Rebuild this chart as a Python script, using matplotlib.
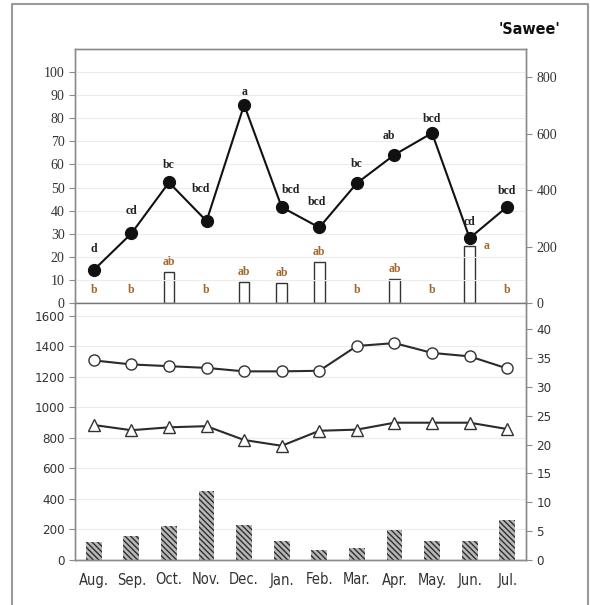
import matplotlib
matplotlib.use("Agg")
import matplotlib.pyplot as plt
from matplotlib.lines import Line2D
import numpy as np

# ---- data -------------------------------------------------------------
months = ["Aug.", "Sep.", "Oct.", "Nov.", "Dec.", "Jan.", "Feb.", "Mar.",
          "Apr.", "May.", "Jun.", "Jul."]

# upper panel: line on left axis (%), bars on right axis
rate = [14.3, 30.1, 52.2, 35.5, 85.8, 41.5, 32.7, 51.9, 64.2, 73.6, 28.1, 41.7]
rate_letters = ["d", "cd", "bc", "bcd", "a", "bcd", "bcd", "bc", "ab", "bcd", "cd", "bcd"]
count = [0, 0, 111, 0, 75, 71, 147, 0, 86, 0, 203, 0]
count_letters = ["b", "b", "ab", "b", "ab", "ab", "ab", "b", "ab", "b", "a", "b"]

# lower panel: rainfall bars (left axis), max / min temperature (right axis)
rainfall = [116, 159, 223, 450, 227, 122, 63, 79, 196, 126, 126, 262]
temp_max = [34.6, 33.9, 33.6, 33.3, 32.7, 32.7, 32.8, 37.1, 37.6, 35.9, 35.3, 33.2]
temp_min = [23.4, 22.5, 23.0, 23.2, 20.8, 19.8, 22.4, 22.6, 23.8, 23.8, 23.8, 22.7]

# label offsets (pixels) for the letters above the upper line
rate_lbl_dx = [0, 0, 0, -6, 0, 9, -2, 0, -6, 0, 0, 0]
rate_lbl_dy = [21, 22, 17, 32, 13, 17, 25, 19, 19, 14, 16, 16]

# ---- style --------------------------------------------------------------
plt.rcParams["hatch.linewidth"] = 1.0
plt.rcParams["font.stretch"] = "condensed"
SERIF = ["Liberation Serif", "DejaVu Serif"]
SANS = "DejaVu Sans"
BROWN = "#a5662c"
AXC = "#8c8c8c"
TXT = "#333333"

W, H = 590, 605
fig = plt.figure(figsize=(W / 100, H / 100), dpi=100)

def frac(x0, y0, x1, y1):
    return [x0 / W, 1 - y1 / H, (x1 - x0) / W, (y1 - y0) / H]

x = np.arange(len(months))

# ---- upper panel --------------------------------------------------------
ax1 = fig.add_axes(frac(75, 49, 526, 303))
ax1r = ax1.twinx()
ax1.set_zorder(ax1r.get_zorder() + 1)
ax1.patch.set_visible(False)

nz = [i for i, v in enumerate(count) if v > 0]
ax1r.bar(x[nz], [count[i] for i in nz], width=0.28, facecolor="white",
         edgecolor="#333333", linewidth=1.0)
ax1r.set_ylim(0, 900)
ax1r.set_yticks(range(0, 801, 200))

ax1.plot(x, rate, color="#111111", lw=1.5, marker="o", ms=8.5,
         mfc="#111111", mec="#111111")
ax1.set_ylim(0, 110)
ax1.set_yticks(range(0, 101, 10))
ax1.set_xlim(-0.5, len(months) - 0.5)
ax1.set_xticks([])
ax1.grid(axis="y", color="#ececec", lw=0.8)
ax1.set_axisbelow(True)

for i, (v, t) in enumerate(zip(rate, rate_letters)):
    ax1.annotate(t, (x[i], v), xytext=(rate_lbl_dx[i], rate_lbl_dy[i]),
                 textcoords="offset pixels", ha="center", va="center",
                 fontsize=8.5, fontweight="bold", family=SERIF, color="#222222")

for i, (v, t) in enumerate(zip(count, count_letters)):
    if v == 0:
        off = (0, 13)
    elif t == "a":
        off = (17, 0)
    else:
        off = (0, 10)
    ax1r.annotate(t, (x[i], v), xytext=off, textcoords="offset pixels",
                  ha="center", va="center", fontsize=8.5, fontweight="bold",
                  family=SERIF, color=BROWN)

for a in (ax1, ax1r):
    for s in a.spines.values():
        s.set_color(AXC)
        s.set_linewidth(1.0)
    a.tick_params(axis="y", direction="out", length=4, color=AXC,
                  labelsize=10, labelcolor=TXT)
ax1.spines["bottom"].set_color("#777777")

# ---- lower panel --------------------------------------------------------
ax2 = fig.add_axes(frac(75, 303, 526, 560))
ax2r = ax2.twinx()
ax2r.set_zorder(ax2.get_zorder() + 1)
ax2r.patch.set_visible(False)

ax2.bar(x, rainfall, width=0.42, facecolor="#b8b8b8", edgecolor="#2e2e2e",
        linewidth=0.0, hatch="\\" * 6)
ax2.set_ylim(0, 1683)
ax2.set_yticks(range(0, 1601, 200))
ax2.set_xlim(-0.5, len(months) - 0.5)
ax2.set_xticks(x)
ax2.set_xticklabels(months)
ax2.grid(axis="y", color="#ececec", lw=0.8)
ax2.set_axisbelow(True)

ax2r.plot(x, temp_max, color="#2b2b2b", lw=1.5, marker="o", ms=8,
          mfc="white", mec="#333333", mew=1.0)
ax2r.plot(x, temp_min, color="#2b2b2b", lw=1.5, marker="^", ms=8,
          mfc="white", mec="#333333", mew=1.0)
ax2r.set_ylim(0, 44.55)
ax2r.set_yticks(range(0, 41, 5))

for a in (ax2, ax2r):
    for s in a.spines.values():
        s.set_color(AXC)
        s.set_linewidth(1.0)
    a.spines["top"].set_visible(False)
    a.tick_params(axis="y", direction="out", length=4, color=AXC,
                  labelsize=9.5, labelcolor=TXT)
ax2.tick_params(axis="x", length=0, pad=9, labelsize=10.5, labelcolor=TXT)

# serif tick labels on the upper panel, sans on the lower one
fig.canvas.draw()
for a in (ax1, ax1r):
    for lab in a.get_yticklabels():
        lab.set_fontfamily(SERIF)
for a in (ax2, ax2r):
    for lab in a.get_yticklabels() + a.get_xticklabels():
        lab.set_fontfamily(SANS)

# ---- title and outer frame ---------------------------------------------
fig.text(560 / W, 1 - 29 / H, "'Sawee'", ha="right", va="center",
         fontsize=11.5, fontweight="bold", family=SANS, color="#111111")

x0, x1, y0 = 12 / W, 588 / W, 1 - 4 / H
fig.add_artist(Line2D([x0, x0, x1, x1], [0, y0, y0, 0], transform=fig.transFigure,
                      color="#9a9a9a", lw=1.5))

fig.savefig("out.png", dpi=100)
